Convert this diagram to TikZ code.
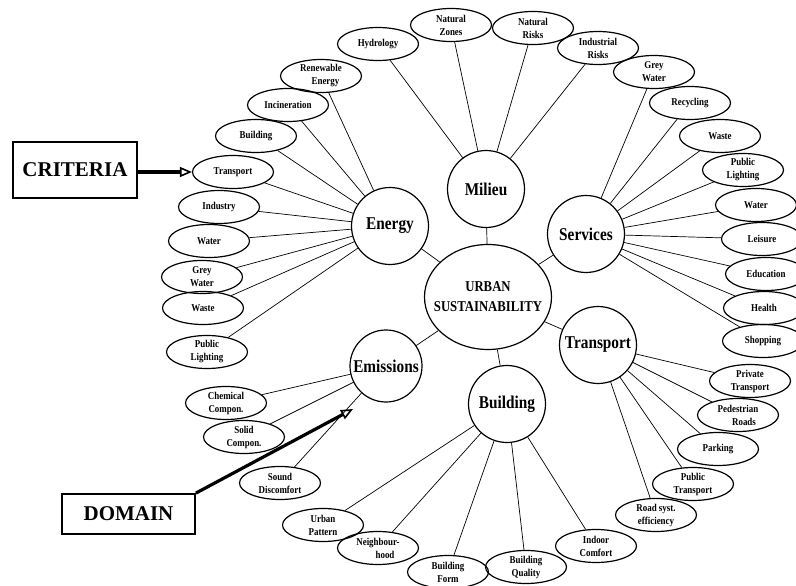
\documentclass[tikz,border=0pt]{standalone}
\usepackage{fontspec}
\setmainfont{Liberation Serif}
\newfontfamily\nf[FakeStretch=0.85]{Liberation Serif}
\usetikzlibrary{shapes.geometric,arrows.meta}
\begin{document}
\begin{tikzpicture}[x=1pt,y=-1pt,
  ctext/.style={align=center,inner sep=0pt,font=\nf\bfseries\fontsize{10.5}{13}\selectfont},
  crit/.style={ellipse,draw,line width=1.2pt,minimum width=81pt,minimum height=33pt,inner sep=0pt,
    label={[ctext]center:#1}},
  dom/.style={circle,draw,line width=1.2pt,minimum size=77pt,inner sep=0pt,
    font=\nf\bfseries\fontsize{18}{20}\selectfont},
  utext/.style={align=center,inner sep=0pt,font=\nf\bfseries\fontsize{15}{20}\selectfont},
  link/.style={line width=0.7pt},
  tagbox/.style={draw,line width=1.8pt,inner sep=0pt,font=\bfseries\fontsize{21}{24}\selectfont},
  bigarrow/.style={line width=3.2pt,-{Triangle[open,length=12pt,width=10pt,line width=1.6pt]}}
]
\useasboundingbox (0,0) rectangle (796,586);

% centre and domains
\node[ellipse,draw,line width=1.2pt,minimum width=127pt,minimum height=105pt,inner sep=0pt,
  label={[utext]center:URBAN\\SUSTAINABILITY}] (U) at (488,297) {};
\node[dom] (M)  at (486,189) {Milieu};
\node[dom] (E)  at (390,226) {Energy};
\node[dom] (S)  at (586,234) {Services};
\node[dom] (T)  at (598,345) {Transport};
\node[dom,minimum size=72pt] (Em) at (386,366) {Emissions};
\node[dom] (B)  at (507,404) {Building};

\foreach \d in {M,E,S,T,Em,B} \draw[link] (U) -- (\d);

% Energy criteria
\node[crit={Renewable\\\hspace*{9pt}Energy}] (e1) at (321,76) {};
\node[crit={Incineration}] (e2) at (288,105) {};
\node[crit={Building}] (e3) at (256,136) {};
\node[crit={Transport}] (e4) at (233,172) {};
\node[crit={Industry}] (e5) at (219,207) {};
\node[crit={Water}] (e6) at (209,241) {};
\node[crit={Grey\\Water}] (e7) at (202,277) {};
\node[crit={Waste}] (e8) at (203,308) {};
\node[crit={Public\\Lighting}] (e9) at (207,352) {};
\foreach \i in {1,...,9} \draw[link] (E) -- (e\i);

% Milieu criteria
\node[crit={Hydrology}] (m1) at (378,44) {};
\node[crit={Natural\\Zones}] (m2) at (451,25) {};
\node[crit={Natural\\Risks}] (m3) at (533,28) {};
\node[crit={Industrial\\Risks}] (m4) at (598,48) {};
\foreach \i in {1,...,4} \draw[link] (M) -- (m\i);

% Services criteria
\node[crit={Grey\\Water}] (s1) at (654,72) {};
\node[crit={Recycling}] (s2) at (690,103) {};
\node[crit={Waste}] (s3) at (720,136) {};
\node[crit={Public\\Lighting}] (s4) at (743,170) {};
\node[crit={Water}] (s5) at (756,205) {};
\node[crit={Leisure}] (s6) at (762,239) {};
\node[crit={Education}] (s7) at (766,274) {};
\node[crit={Health}] (s8) at (764,308) {};
\node[crit={Shopping}] (s9) at (763,341) {};
\foreach \i in {1,...,9} \draw[link] (S) -- (s\i);

% Transport criteria
\node[crit={Private\\Transport}] (t1) at (750,381) {};
\node[crit={Pedestrian\\\hspace*{12pt}Roads}] (t2) at (738,415) {};
\node[crit={Parking}] (t3) at (718,449) {};
\node[crit={Public\\Transport}] (t4) at (693,484) {};
\node[crit={Road syst.\\efficiency}] (t5) at (656,515) {};
\foreach \i in {1,...,5} \draw[link] (T) -- (t\i);

% Building criteria
\node[crit={Indoor\\Comfort}] (b1) at (596,546) {};
\node[crit={Building\\Quality}] (b2) at (526,567) {};
\node[crit={Building\\Form}] (b3) at (448,572) {};
\node[crit={Neighbour-\\\hspace*{14pt}hood}] (b4) at (378,548) {};
\node[crit={Urban\\Pattern}] (b5) at (323,525) {};
\foreach \i in {1,...,5} \draw[link] (B) -- (b\i);

% Emissions criteria
\node[crit={Chemical\\Compon.}] (x1) at (226,403) {};
\node[crit={Solid\\Compon.}] (x2) at (244,437) {};
\node[crit={Sound\\Discomfort}] (x3) at (280,483) {};
\foreach \i in {1,...,3} \draw[link] (Em) -- (x\i);

% annotation boxes
\node[tagbox,minimum width=124pt,minimum height=56pt] (crit) at (75,170) {CRITERIA};
\draw[bigarrow] (crit.east |- e4.west) -- (e4.west);
\node[tagbox,minimum width=133pt,minimum height=40pt] (domn) at (128.5,514) {DOMAIN};
\coordinate (dtip) at (353,409);
\draw[bigarrow] (domn.north east) -- (dtip);
\end{tikzpicture}
\end{document}
